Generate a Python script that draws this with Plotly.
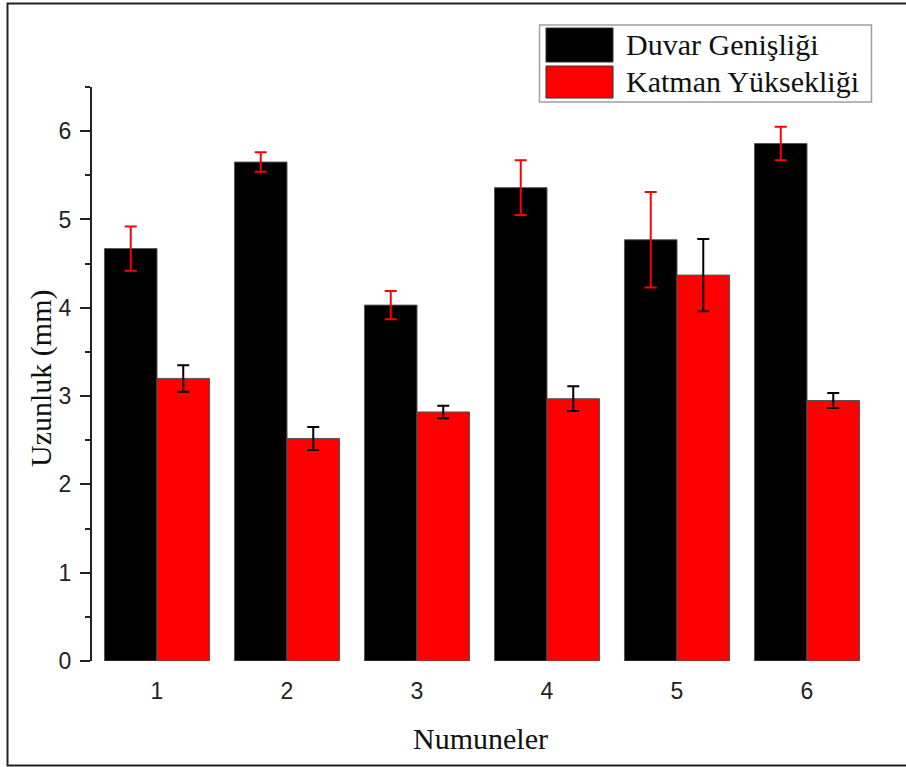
import plotly.graph_objects as go

categories = ["1", "2", "3", "4", "5", "6"]
series_names = ["Duvar Genişliği", "Katman Yüksekliği"]
duvar = [4.67, 5.65, 4.03, 5.36, 4.77, 5.86]
duvar_err = [0.25, 0.11, 0.16, 0.31, 0.54, 0.19]
katman = [3.20, 2.52, 2.82, 2.97, 4.37, 2.95]
katman_err = [0.15, 0.13, 0.07, 0.14, 0.41, 0.085]
y_ticks = [0, 1, 2, 3, 4, 5, 6]

W, H = 906, 767
ML, MR, MT, MB = 92, 34, 87, 106
PW, PH = W - ML - MR, H - MT - MB


def px(x):
    return (x - ML) / PW


def py(y):
    return (H - MB - y) / PH


xs = [int(c) for c in categories]

fig = go.Figure()
fig.add_trace(go.Bar(
    x=xs, y=duvar, name=series_names[0],
    marker=dict(color="#000000", line=dict(color="#555555", width=1)),
    error_y=dict(type="data", array=duvar_err, visible=True,
                 color="#FF0000", thickness=2, width=6),
    showlegend=False,
))
fig.add_trace(go.Bar(
    x=xs, y=katman, name=series_names[1],
    marker=dict(color="#FF0000", line=dict(color="#555555", width=1)),
    error_y=dict(type="data", array=katman_err, visible=True,
                 color="#000000", thickness=2, width=6),
    showlegend=False,
))

fig.update_layout(
    width=W, height=H,
    margin=dict(l=ML, r=MR, t=MT, b=MB, autoexpand=False),
    paper_bgcolor="white", plot_bgcolor="white",
    barmode="group", bargap=0.192, bargroupgap=0,
    showlegend=False,
)

fig.update_xaxes(
    range=[0.5, 6.5], tickmode="array", tickvals=xs, ticktext=categories,
    showline=False, showgrid=False, zeroline=False, ticks="",
    tickfont=dict(family="Liberation Sans, Arial", size=23, color="#222222"),
    ticklabelstandoff=14,
)
fig.update_yaxes(
    range=[0, 6.5], tickmode="array", tickvals=y_ticks,
    showline=True, linecolor="#222222", linewidth=2,
    showgrid=False, zeroline=False,
    ticks="outside", ticklen=10, tickwidth=2, tickcolor="#222222",
    minor=dict(dtick=0.5, ticks="outside", ticklen=5, tickwidth=2, tickcolor="#222222"),
    tickfont=dict(family="Liberation Sans, Arial", size=23, color="#222222"),
    ticklabelstandoff=4,
)

shapes = []
annotations = []

# outer frame
shapes.append(dict(type="rect", xref="paper", yref="paper",
                   x0=px(7.5), x1=px(912), y0=py(765.5), y1=py(3.5),
                   line=dict(color="#222222", width=2), fillcolor="rgba(0,0,0,0)", layer="above"))

# axis titles
annotations.append(dict(text="Uzunluk (mm)", xref="paper", yref="paper",
                        x=px(41), y=py(379), textangle=-90, showarrow=False,
                        xanchor="center", yanchor="middle",
                        font=dict(family="Liberation Serif, Times New Roman", size=30, color="#111111")))
annotations.append(dict(text="Numuneler", xref="paper", yref="paper",
                        x=px(480), y=py(738), showarrow=False,
                        xanchor="center", yanchor="middle",
                        font=dict(family="Liberation Serif, Times New Roman", size=30, color="#111111")))

# legend (manual)
shapes.append(dict(type="rect", xref="paper", yref="paper",
                   x0=px(539.5), x1=px(871.5), y0=py(102), y1=py(25),
                   line=dict(color="#A0A0A0", width=1.5), fillcolor="white", layer="above"))
legend_colors = ["#000000", "#FF0000"]
legend_rows = [(28, 62, 45), (66, 98, 82)]
for name, col, (ya, yb, yt) in zip(series_names, legend_colors, legend_rows):
    shapes.append(dict(type="rect", xref="paper", yref="paper",
                       x0=px(546), x1=px(613), y0=py(yb), y1=py(ya),
                       line=dict(color="#333333", width=1), fillcolor=col, layer="above"))
    annotations.append(dict(text=name, xref="paper", yref="paper",
                            x=px(624), y=py(yt), showarrow=False,
                            xanchor="left", yanchor="middle",
                            font=dict(family="Liberation Serif, Times New Roman", size=30, color="#111111")))

fig.update_layout(shapes=shapes, annotations=annotations)
fig.write_html("out.html")
